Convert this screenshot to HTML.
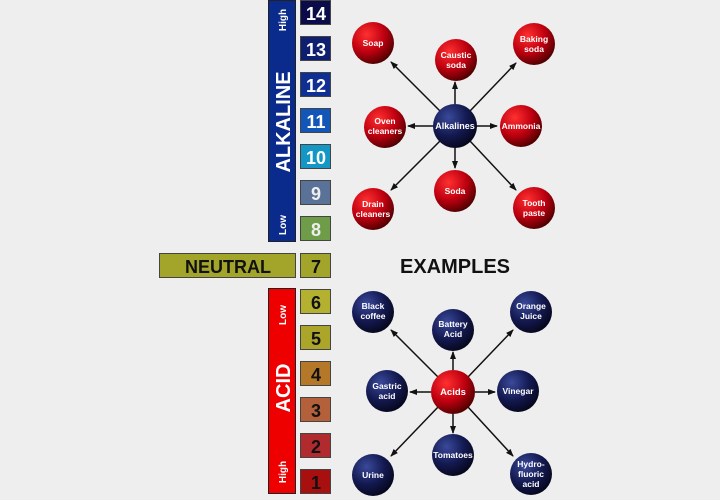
<!DOCTYPE html>
<html><head><meta charset="utf-8"><style>
body{margin:0;background:#efeeee;}
svg{display:block;font-family:"Liberation Sans",sans-serif;font-weight:bold;}
</style></head><body>
<svg width="720" height="500" viewBox="0 0 720 500">
<defs>
<radialGradient id="red" cx="0.35" cy="0.3" r="0.75"><stop offset="0" stop-color="#ff3030"/><stop offset="0.55" stop-color="#c00010"/><stop offset="1" stop-color="#4a0000"/></radialGradient>
<radialGradient id="blue" cx="0.35" cy="0.3" r="0.75"><stop offset="0" stop-color="#3a4a9a"/><stop offset="0.55" stop-color="#141a52"/><stop offset="1" stop-color="#05061a"/></radialGradient>
<marker id="ah" markerWidth="8" markerHeight="6" refX="7" refY="3" orient="auto" markerUnits="userSpaceOnUse"><path d="M0,0 L8,3 L0,6 z" fill="#111"/></marker>
</defs>
<rect width="720" height="500" fill="#efeeee"/>
<!-- alkaline bar -->
<rect x="268.5" y="0.5" width="27" height="241" fill="#0a2a8c" stroke="#222"/>
<text transform="translate(290,122) rotate(-90)" text-anchor="middle" fill="#fff" font-size="20">ALKALINE</text>
<text transform="translate(286,20) rotate(-90)" text-anchor="middle" fill="#fff" font-size="10">High</text>
<text transform="translate(286,225) rotate(-90)" text-anchor="middle" fill="#fff" font-size="10">Low</text>
<!-- acid bar -->
<rect x="268.5" y="288.5" width="27" height="205" fill="#ee0000" stroke="#222"/>
<text transform="translate(290,388) rotate(-90)" text-anchor="middle" fill="#fff" font-size="20">ACID</text>
<text transform="translate(286,315) rotate(-90)" text-anchor="middle" fill="#fff" font-size="10">Low</text>
<text transform="translate(286,472) rotate(-90)" text-anchor="middle" fill="#fff" font-size="10">High</text>
<!-- neutral -->
<rect x="159.5" y="253.5" width="136" height="24" fill="#a3a52a" stroke="#444"/>
<text x="228" y="273" text-anchor="middle" fill="#111" font-size="18">NEUTRAL</text>
<g font-size="18" text-anchor="middle">
<rect x="300.5" y="0.5" width="30" height="24" fill="#0b0b4a" stroke="#444"/><text x="316" y="20" fill="#fff">14</text>
<rect x="300.5" y="36.5" width="30" height="24" fill="#0d1f6e" stroke="#444"/><text x="316" y="56" fill="#fff">13</text>
<rect x="300.5" y="72.5" width="30" height="24" fill="#0f2f92" stroke="#444"/><text x="316" y="92" fill="#fff">12</text>
<rect x="300.5" y="108.5" width="30" height="24" fill="#1256b8" stroke="#444"/><text x="316" y="128" fill="#fff">11</text>
<rect x="300.5" y="144.5" width="30" height="24" fill="#1497c4" stroke="#444"/><text x="316" y="164" fill="#fff">10</text>
<rect x="300.5" y="180.5" width="30" height="24" fill="#5a7298" stroke="#444"/><text x="316" y="200" fill="#eee">9</text>
<rect x="300.5" y="216.5" width="30" height="24" fill="#6f9c48" stroke="#444"/><text x="316" y="236" fill="#eee">8</text>
<rect x="300.5" y="253.5" width="30" height="24" fill="#a3a52a" stroke="#444"/><text x="316" y="273" fill="#111">7</text>
<rect x="300.5" y="289.5" width="30" height="24" fill="#b4b030" stroke="#444"/><text x="316" y="309" fill="#111">6</text>
<rect x="300.5" y="325.5" width="30" height="24" fill="#aba52a" stroke="#444"/><text x="316" y="345" fill="#111">5</text>
<rect x="300.5" y="361.5" width="30" height="24" fill="#b47828" stroke="#444"/><text x="316" y="381" fill="#111">4</text>
<rect x="300.5" y="397.5" width="30" height="24" fill="#b4603a" stroke="#444"/><text x="316" y="417" fill="#111">3</text>
<rect x="300.5" y="433.5" width="30" height="24" fill="#b02a2e" stroke="#444"/><text x="316" y="453" fill="#111">2</text>
<rect x="300.5" y="469.5" width="30" height="24" fill="#a81010" stroke="#444"/><text x="316" y="489" fill="#111">1</text>
</g>
<text x="455" y="273" text-anchor="middle" fill="#111" font-size="20">EXAMPLES</text>
<g stroke="#111" stroke-width="1.5" marker-end="url(#ah)">
<line x1="441" y1="112" x2="391" y2="62"/><line x1="455" y1="104" x2="455" y2="82"/><line x1="470" y1="111" x2="516" y2="63"/>
<line x1="433" y1="126" x2="408" y2="126"/><line x1="477" y1="126" x2="497" y2="126"/>
<line x1="441" y1="140" x2="391" y2="190"/><line x1="455" y1="148" x2="455" y2="168"/><line x1="470" y1="141" x2="516" y2="190"/>
<line x1="439" y1="378" x2="391" y2="330"/><line x1="453" y1="370" x2="453" y2="352"/><line x1="468" y1="377" x2="513" y2="330"/>
<line x1="431" y1="392" x2="410" y2="392"/><line x1="475" y1="392" x2="495" y2="392"/>
<line x1="439" y1="406" x2="391" y2="456"/><line x1="453" y1="414" x2="453" y2="433"/><line x1="468" y1="407" x2="513" y2="456"/>
</g>
<g font-size="8.5" text-anchor="middle" fill="#fff">
<circle cx="373" cy="43" r="21" fill="url(#red)"/><text x="373" y="46">Soap</text>
<circle cx="456" cy="60" r="21" fill="url(#red)"/><text x="456" y="58">Caustic</text><text x="456" y="68">soda</text>
<circle cx="534" cy="44" r="21" fill="url(#red)"/><text x="534" y="42">Baking</text><text x="534" y="52">soda</text>
<circle cx="385" cy="127" r="21" fill="url(#red)"/><text x="385" y="124">Oven</text><text x="385" y="134">cleaners</text>
<circle cx="521" cy="126" r="21" fill="url(#red)"/><text x="521" y="129">Ammonia</text>
<circle cx="373" cy="209" r="21" fill="url(#red)"/><text x="373" y="207">Drain</text><text x="373" y="217">cleaners</text>
<circle cx="455" cy="191" r="21" fill="url(#red)"/><text x="455" y="194">Soda</text>
<circle cx="534" cy="208" r="21" fill="url(#red)"/><text x="534" y="206">Tooth</text><text x="534" y="216">paste</text>
<circle cx="455" cy="126" r="22" fill="url(#blue)"/><text x="455" y="129" font-size="9">Alkalines</text>
<circle cx="373" cy="312" r="21" fill="url(#blue)"/><text x="373" y="309">Black</text><text x="373" y="319">coffee</text>
<circle cx="453" cy="330" r="21" fill="url(#blue)"/><text x="453" y="327">Battery</text><text x="453" y="337">Acid</text>
<circle cx="531" cy="312" r="21" fill="url(#blue)"/><text x="531" y="309">Orange</text><text x="531" y="319">Juice</text>
<circle cx="387" cy="391" r="21" fill="url(#blue)"/><text x="387" y="389">Gastric</text><text x="387" y="399">acid</text>
<circle cx="518" cy="391" r="21" fill="url(#blue)"/><text x="518" y="394">Vinegar</text>
<circle cx="373" cy="475" r="21" fill="url(#blue)"/><text x="373" y="478">Urine</text>
<circle cx="453" cy="455" r="21" fill="url(#blue)"/><text x="453" y="458">Tomatoes</text>
<circle cx="531" cy="474" r="21" fill="url(#blue)"/><text x="531" y="467">Hydro-</text><text x="531" y="477">fluoric</text><text x="531" y="487">acid</text>
<circle cx="453" cy="392" r="22" fill="url(#red)"/><text x="453" y="395" font-size="9.5">Acids</text>
</g>
</svg>
</body></html>
